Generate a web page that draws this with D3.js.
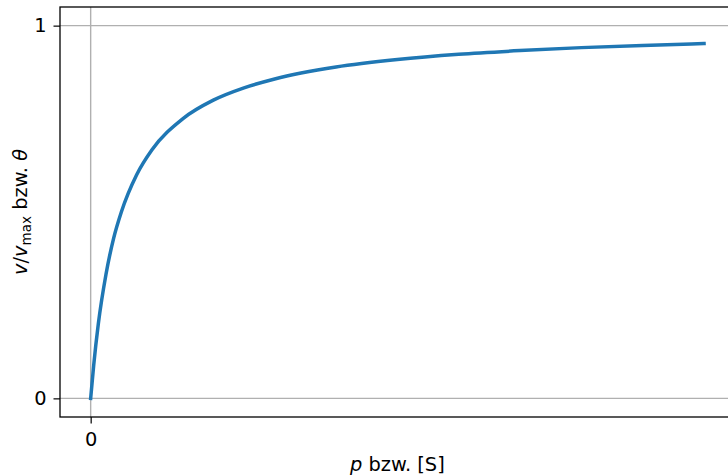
<!DOCTYPE html>
<html>
<head>
<meta charset="utf-8">
<script src="https://cdn.jsdelivr.net/npm/d3@7"></script>
<style>
  body { margin: 0; background: #fff; }
  svg { display: block; font-family: "DejaVu Sans", sans-serif; }
</style>
</head>
<body>
<svg id="chart" width="728" height="475"></svg>
<script>
// substrate concentration / pressure
var sValues = [0, 0.1, 0.25, 0.5, 0.75, 1, 1.5, 2, 3, 4, 5, 6, 8, 10, 12, 14, 16, 18, 20];
// v/vmax
var vValues = [0, 0.09, 0.2, 0.333, 0.43, 0.5, 0.6, 0.667, 0.75, 0.8, 0.833, 0.857, 0.889, 0.909, 0.923, 0.933, 0.941, 0.947, 0.952];
var xTicks = [0];
var yTicks = [0, 1];

var svg = d3.select("#chart");

// axes box, right edge runs past the window
var boxLeft = 60, boxTop = 7, boxBottom = 417, boxRight = 734.7;
var fontSize = 19.4;

var x = d3.scaleLinear().domain([-1, 21]).range([boxLeft, boxRight]);
var y = d3.scaleLinear().domain([-0.05, 1.05]).range([boxBottom, boxTop]);

// grid
svg.append("g").selectAll("line")
	.data(xTicks).enter().append("line")
	.attr("x1", d => x(d)).attr("x2", d => x(d))
	.attr("y1", boxTop).attr("y2", boxBottom)
	.attr("stroke", "#b0b0b0").attr("stroke-width", 1.4);

svg.append("g").selectAll("line")
	.data(yTicks).enter().append("line")
	.attr("x1", boxLeft).attr("x2", boxRight)
	.attr("y1", d => y(d)).attr("y2", d => y(d))
	.attr("stroke", "#b0b0b0").attr("stroke-width", 1.4);

// curve
var data = sValues.map(function (s, i) { return [s, vValues[i]]; });
var line = d3.line()
	.x(d => x(d[0]))
	.y(d => y(d[1]))
	.curve(d3.curveMonotoneX);

svg.append("path")
	.datum(data)
	.attr("d", line)
	.attr("fill", "none")
	.attr("stroke", "#1f77b4")
	.attr("stroke-width", 3.5)
	.attr("stroke-linecap", "square");

// axes
var xAxis = svg.append("g")
	.attr("transform", "translate(0," + boxBottom + ")")
	.call(d3.axisBottom(x).tickValues(xTicks).tickSize(6.5).tickPadding(8.8).tickFormat(d3.format("d")));
var yAxis = svg.append("g")
	.attr("transform", "translate(" + boxLeft + ",0)")
	.call(d3.axisLeft(y).tickValues(yTicks).tickSize(6.5).tickPadding(7).tickFormat(d3.format("d")));

[xAxis, yAxis].forEach(function (a) {
	a.select(".domain").remove();
	a.selectAll("line").attr("stroke", "#000").attr("stroke-width", 1.2);
	a.selectAll("text").attr("font-size", fontSize).attr("font-family", "DejaVu Sans").attr("fill", "#000");
});

// spines
svg.append("rect")
	.attr("x", boxLeft).attr("y", boxTop)
	.attr("width", boxRight - boxLeft).attr("height", boxBottom - boxTop)
	.attr("fill", "none").attr("stroke", "#000").attr("stroke-width", 1.3);

// axis labels
var xl = svg.append("text")
	.attr("x", (boxLeft + boxRight) / 2).attr("y", 471)
	.attr("text-anchor", "middle")
	.attr("font-size", fontSize);
xl.append("tspan").attr("font-style", "italic").text("p");
xl.append("tspan").text(" bzw. [S]");

var yl = svg.append("text")
	.attr("transform", "translate(27," + ((boxTop + boxBottom) / 2) + ") rotate(-90)")
	.attr("text-anchor", "middle")
	.attr("font-size", fontSize);
yl.append("tspan").attr("font-style", "italic").text("v");
yl.append("tspan").text("/");
yl.append("tspan").attr("font-style", "italic").text("v");
yl.append("tspan").attr("font-size", 13.6).attr("dy", 3.5).text("max");
yl.append("tspan").attr("dy", -3.5).text(" bzw. ");
yl.append("tspan").attr("font-style", "italic").text("θ");
</script>
</body>
</html>
